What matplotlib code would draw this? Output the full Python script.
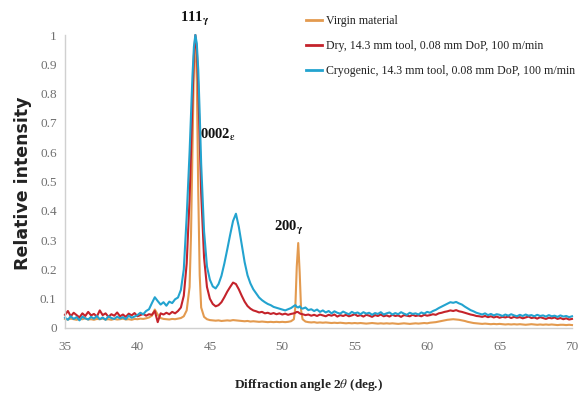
import matplotlib
matplotlib.use("Agg")
import matplotlib.pyplot as plt
from matplotlib.lines import Line2D

# ------------------------------------------------------------------ #
#  Data (2-theta in degrees, relative intens.) #
# ------------------------------------------------------------------ #
angle = [
    35.0, 35.2, 35.4, 35.6, 35.8, 36.0, 36.2, 36.4, 36.6, 36.8,
    37.0, 37.2, 37.4, 37.6, 37.8, 38.0, 38.2, 38.4, 38.6, 38.8,
    39.0, 39.2, 39.4, 39.6, 39.8, 40.0, 40.2, 40.4, 40.6, 40.8,
    41.0, 41.2, 41.4, 41.6, 41.8, 42.0, 42.2, 42.4, 42.6, 42.8,
    43.0, 43.2, 43.4, 43.6,
    43.7, 43.8, 43.9, 44.0, 44.1, 44.2, 44.3, 44.4,
    44.6, 44.8, 45.0, 45.2, 45.4, 45.6, 45.8, 46.0, 46.2, 46.4,
    46.6, 46.8, 47.0, 47.2, 47.4, 47.6, 47.8, 48.0, 48.2, 48.4,
    48.6, 48.8, 49.0, 49.2, 49.4, 49.6, 49.8, 50.0, 50.2, 50.4,
    50.6, 50.8,
    50.9, 51.0, 51.1, 51.2, 51.3,
    51.4, 51.6, 51.8, 52.0, 52.2, 52.4, 52.6, 52.8, 53.0, 53.2,
    53.4, 53.6, 53.8, 54.0, 54.2, 54.4, 54.6, 54.8, 55.0, 55.2,
    55.4, 55.6, 55.8, 56.0, 56.2, 56.4, 56.6, 56.8, 57.0, 57.2,
    57.4, 57.6, 57.8, 58.0, 58.2, 58.4, 58.6, 58.8, 59.0, 59.2,
    59.4, 59.6, 59.8, 60.0, 60.2, 60.4, 60.6, 60.8, 61.0, 61.2,
    61.4, 61.6, 61.8, 62.0, 62.2, 62.4, 62.6, 62.8, 63.0, 63.2,
    63.4, 63.6, 63.8, 64.0, 64.2, 64.4, 64.6, 64.8, 65.0, 65.2,
    65.4, 65.6, 65.8, 66.0, 66.2, 66.4, 66.6, 66.8, 67.0, 67.2,
    67.4, 67.6, 67.8, 68.0, 68.2, 68.4, 68.6, 68.8, 69.0, 69.2,
    69.4, 69.6, 69.8, 70.0,
]

virgin = [
    0.031, 0.029, 0.032, 0.030, 0.028, 0.031, 0.030, 0.033, 0.029, 0.030,
    0.028, 0.031, 0.030, 0.032, 0.029, 0.030, 0.028, 0.031, 0.029, 0.030,
    0.032, 0.029, 0.030, 0.028, 0.031, 0.030, 0.032, 0.031, 0.033, 0.036,
    0.042, 0.063, 0.046, 0.034, 0.031, 0.030, 0.029, 0.031, 0.030, 0.032,
    0.034, 0.040, 0.060, 0.140,
    0.32, 0.62, 0.90, 0.99, 0.84, 0.46, 0.18, 0.07,
    0.038, 0.030, 0.027, 0.026, 0.025, 0.026, 0.024, 0.025, 0.026, 0.025,
    0.027, 0.026, 0.025, 0.024, 0.023, 0.024, 0.022, 0.023, 0.022, 0.021,
    0.022, 0.021, 0.020, 0.021, 0.020, 0.021, 0.020, 0.021, 0.020, 0.021,
    0.023, 0.030,
    0.070, 0.210, 0.290, 0.190, 0.060,
    0.030, 0.022, 0.020, 0.019, 0.020, 0.018, 0.019, 0.018, 0.019, 0.018,
    0.017, 0.018, 0.017, 0.018, 0.017, 0.016, 0.017, 0.016, 0.017, 0.016,
    0.017, 0.016, 0.015, 0.016, 0.017, 0.016, 0.015, 0.016, 0.015, 0.016,
    0.015, 0.016, 0.015, 0.014, 0.015, 0.016, 0.015, 0.014, 0.015, 0.016,
    0.015, 0.016, 0.017, 0.016, 0.018, 0.019, 0.020, 0.022, 0.024, 0.026,
    0.028, 0.029, 0.030, 0.029, 0.028, 0.026, 0.024, 0.021, 0.019, 0.017,
    0.016, 0.015, 0.014, 0.015, 0.014, 0.013, 0.014, 0.013, 0.014, 0.013,
    0.012, 0.013, 0.012, 0.013, 0.012, 0.013, 0.012, 0.011, 0.012, 0.013,
    0.012, 0.011, 0.012, 0.011, 0.012, 0.011, 0.012, 0.011, 0.010, 0.011,
    0.011, 0.010, 0.011, 0.010,
]

dry = [
    0.045, 0.058, 0.040, 0.052, 0.044, 0.036, 0.050, 0.041, 0.055, 0.043,
    0.048, 0.039, 0.060, 0.044, 0.050, 0.038, 0.047, 0.042, 0.053, 0.040,
    0.046, 0.038, 0.049, 0.043, 0.051, 0.040, 0.044, 0.048, 0.042, 0.047,
    0.045, 0.058, 0.020, 0.050, 0.046, 0.052, 0.047, 0.055, 0.050, 0.058,
    0.070, 0.110, 0.220, 0.440,
    0.60, 0.78, 0.93, 1.00, 0.95, 0.82, 0.64, 0.46,
    0.240, 0.140, 0.100, 0.082, 0.074, 0.078, 0.088, 0.105, 0.124, 0.140,
    0.155, 0.150, 0.132, 0.110, 0.090, 0.075, 0.066, 0.060, 0.057, 0.053,
    0.055, 0.050, 0.052, 0.048, 0.051, 0.047, 0.050, 0.046, 0.049, 0.045,
    0.048, 0.050,
    0.052, 0.055, 0.054, 0.050, 0.048,
    0.047, 0.044, 0.046, 0.042, 0.045, 0.041, 0.046, 0.043, 0.040, 0.045,
    0.042, 0.046, 0.039, 0.044, 0.041, 0.045, 0.040, 0.043, 0.047, 0.041,
    0.044, 0.039, 0.045, 0.042, 0.038, 0.044, 0.041, 0.046, 0.040, 0.043,
    0.039, 0.045, 0.041, 0.043, 0.038, 0.044, 0.042, 0.040, 0.045, 0.041,
    0.043, 0.040, 0.045, 0.042, 0.044, 0.047, 0.045, 0.050, 0.052, 0.055,
    0.057, 0.060, 0.058, 0.061, 0.057, 0.055, 0.052, 0.049, 0.046, 0.044,
    0.041, 0.040, 0.038, 0.041, 0.037, 0.040, 0.036, 0.039, 0.035, 0.038,
    0.036, 0.039, 0.034, 0.038, 0.035, 0.037, 0.033, 0.036, 0.039, 0.034,
    0.036, 0.032, 0.037, 0.034, 0.031, 0.035, 0.033, 0.036, 0.031, 0.034,
    0.030, 0.033, 0.029, 0.031,
]

cryo = [
    0.035, 0.028, 0.040, 0.031, 0.037, 0.026, 0.039, 0.033, 0.029, 0.038,
    0.032, 0.041, 0.030, 0.036, 0.028, 0.040, 0.034, 0.031, 0.039, 0.033,
    0.037, 0.030, 0.042, 0.035, 0.039, 0.044, 0.052, 0.047, 0.058, 0.064,
    0.085, 0.105, 0.092, 0.080, 0.088, 0.076, 0.090, 0.085, 0.098, 0.104,
    0.130, 0.200, 0.380, 0.600,
    0.73, 0.86, 0.96, 1.00, 0.97, 0.88, 0.73, 0.56,
    0.330, 0.210, 0.165, 0.142, 0.135, 0.150, 0.178, 0.220, 0.268, 0.318,
    0.365, 0.390, 0.345, 0.285, 0.225, 0.180, 0.152, 0.132, 0.118, 0.104,
    0.095, 0.088, 0.082, 0.078, 0.072, 0.069, 0.066, 0.063, 0.060, 0.064,
    0.068, 0.075,
    0.078, 0.072, 0.070, 0.074, 0.068,
    0.066, 0.070, 0.061, 0.064, 0.058, 0.063, 0.055, 0.060, 0.053, 0.058,
    0.050, 0.057, 0.052, 0.049, 0.056, 0.051, 0.047, 0.055, 0.050, 0.053,
    0.047, 0.054, 0.049, 0.052, 0.045, 0.051, 0.048, 0.054, 0.046, 0.050,
    0.053, 0.046, 0.051, 0.047, 0.054, 0.049, 0.045, 0.052, 0.048, 0.050,
    0.046, 0.053, 0.049, 0.055, 0.052, 0.058, 0.062, 0.068, 0.073, 0.078,
    0.083, 0.088, 0.086, 0.089, 0.084, 0.080, 0.073, 0.067, 0.061, 0.057,
    0.052, 0.049, 0.046, 0.050, 0.044, 0.048, 0.043, 0.047, 0.045, 0.041,
    0.046, 0.042, 0.047, 0.043, 0.040, 0.045, 0.041, 0.046, 0.042, 0.044,
    0.040, 0.045, 0.041, 0.043, 0.039, 0.044, 0.040, 0.042, 0.038, 0.043,
    0.039, 0.041, 0.037, 0.040,
]

series_labels = [
    "Virgin material",
    "Dry, 14.3 mm tool, 0.08 mm DoP, 100 m/min",
    "Cryogenic, 14.3 mm tool, 0.08 mm DoP, 100 m/min",
]
series_colors = ["#E39A4F", "#C4232B", "#23A3CF"]

x_ticks = [35, 40, 45, 50, 55, 60, 65, 70]
y_ticks = [0, 0.1, 0.2, 0.3, 0.4, 0.5, 0.6, 0.7, 0.8, 0.9, 1]
y_tick_labels = ["0", "0.1", "0.2", "0.3", "0.4", "0.5", "0.6", "0.7", "0.8", "0.9", "1"]

# peak labels: (main text, subscript, x, y)
peak_labels = [
    ("111", r"\gamma", 43.97, 1.055),
    ("0002", r"\epsilon", 45.55, 0.66),
    ("200", r"\gamma", 50.45, 0.34),
]

plt.rcParams["mathtext.fontset"] = "stix"
SERIF = ["Liberation Serif", "DejaVu Serif"]
TICK_GREY = "#707070"

fig = plt.figure(figsize=(5.79, 3.96), dpi=100)
ax = fig.add_axes([65 / 579, 1 - 328 / 396, 507 / 579, 293 / 396])

for ys, lab, col in zip([virgin, dry, cryo], series_labels, series_colors):
    ax.plot(angle, ys, color=col, linewidth=1.5, label=lab, clip_on=False)

ax.set_xlim(35, 70)
ax.set_ylim(0, 1)
ax.set_xticks(x_ticks)
ax.set_yticks(y_ticks)
ax.set_yticklabels(y_tick_labels)
ax.tick_params(length=0, labelsize=9.5, labelcolor=TICK_GREY)
ax.tick_params(axis="y", pad=6)
ax.tick_params(axis="x", pad=9)
for lbl in ax.get_xticklabels() + ax.get_yticklabels():
    lbl.set_family(SERIF)

for side in ["top", "right"]:
    ax.spines[side].set_visible(False)
for side in ["left", "bottom"]:
    ax.spines[side].set_color("#d0d0d0")
    ax.spines[side].set_linewidth(1.0)

for main, sub, x, y in peak_labels:
    ax.text(x, y, main + r"$_{\mathbf{" + sub + "}}$", ha="center", va="center",
            fontsize=10.5, fontweight="bold", family=SERIF, color="#111111")

fig.text(23 / 579, 1 - 183 / 396, "Relative intensity", rotation=90,
         ha="center", va="center", fontsize=12.5, fontweight="bold",
         family="DejaVu Sans", color="#222222")
fig.text(309 / 579, 1 - 385 / 396, r"Diffraction angle 2$\theta$ (deg.)",
         ha="center", va="center", fontsize=9.5, fontweight="bold",
         family=SERIF, color="#222222")

handles = [Line2D([], [], color=c, linewidth=2) for c in series_colors]
fig.legend(handles, series_labels, loc="upper left",
           bbox_to_anchor=(306 / 579, 1 - 15 / 396), frameon=False,
           borderpad=0, borderaxespad=0, handlelength=1.3, handletextpad=0.35,
           labelspacing=1.1, prop={"family": SERIF, "size": 8.6},
           labelcolor="#222222")

fig.savefig("out.png", dpi=100, facecolor="white")
plt.close(fig)
